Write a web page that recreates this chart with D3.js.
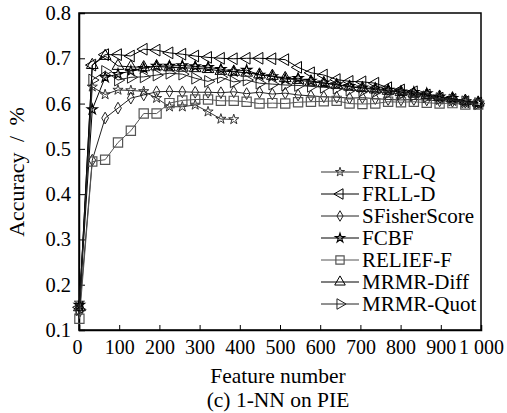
<!DOCTYPE html>
<html>
<head>
<meta charset="utf-8">
<script src="https://cdn.jsdelivr.net/npm/d3@7"></script>
<style>
  body { margin: 0; background: #fff; }
</style>
</head>
<body>
<svg id="chart" width="507" height="413"></svg>
<script>
// feature numbers (step 32)
const features = d3.range(1, 1000, 32)

const frllQ = [0.16, 0.637, 0.620, 0.630, 0.629, 0.627, 0.612, 0.593, 0.593, 0.597, 0.582, 0.566, 0.565]
const frllD = [0.15, 0.685, 0.708, 0.708, 0.705, 0.720, 0.718, 0.712, 0.709, 0.705, 0.702, 0.700, 0.699, 0.700, 0.700, 0.699,
  0.697, 0.680, 0.668, 0.663, 0.653, 0.649, 0.648, 0.645, 0.635, 0.630, 0.626, 0.619, 0.612, 0.609, 0.604, 0.601]
const sFisher = [0.14, 0.475, 0.568, 0.590, 0.612, 0.619, 0.626, 0.627, 0.626, 0.625, 0.625, 0.624, 0.626, 0.622, 0.625, 0.621,
  0.623, 0.619, 0.617, 0.615, 0.614, 0.612, 0.613, 0.611, 0.609, 0.608, 0.609, 0.608, 0.606, 0.605, 0.603, 0.602]
const fcbf = [0.155, 0.587, 0.658, 0.665, 0.672, 0.678, 0.683, 0.683, 0.684, 0.682, 0.680, 0.676, 0.671, 0.674, 0.663, 0.660,
  0.654, 0.656, 0.650, 0.646, 0.642, 0.638, 0.635, 0.633, 0.630, 0.626, 0.625, 0.622, 0.615, 0.612, 0.605, 0.601]
const relief = [0.125, 0.472, 0.476, 0.514, 0.540, 0.578, 0.578, 0.601, 0.607, 0.609, 0.609, 0.606, 0.606, 0.604, 0.600, 0.601,
  0.600, 0.603, 0.604, 0.605, 0.606, 0.600, 0.599, 0.600, 0.604, 0.603, 0.604, 0.602, 0.600, 0.601, 0.598, 0.598]
const mrmrDiff = [0.15, 0.685, 0.705, 0.683, 0.681, 0.680, 0.682, 0.680, 0.679, 0.678, 0.676, 0.672, 0.670, 0.668, 0.664, 0.661,
  0.656, 0.652, 0.648, 0.645, 0.641, 0.637, 0.634, 0.631, 0.628, 0.625, 0.622, 0.619, 0.615, 0.611, 0.606, 0.602]
const mrmrQuot = [0.145, 0.652, 0.671, 0.652, 0.658, 0.659, 0.663, 0.667, 0.665, 0.656, 0.649, 0.658, 0.648, 0.652, 0.645, 0.643,
  0.641, 0.640, 0.638, 0.636, 0.634, 0.630, 0.628, 0.626, 0.624, 0.621, 0.618, 0.615, 0.611, 0.608, 0.604, 0.600]

const seriesNames = ['FRLL-Q', 'FRLL-D', 'SFisherScore', 'FCBF', 'RELIEF-F', 'MRMR-Diff', 'MRMR-Quot']
const seriesValues = [frllQ, frllD, sFisher, fcbf, relief, mrmrDiff, mrmrQuot]

const xTicks = [0, 100, 200, 300, 400, 500, 600, 700, 800, 900, 1000]
const yTicks = [0.1, 0.2, 0.3, 0.4, 0.5, 0.6, 0.7, 0.8]

const FONT = '"Liberation Serif", "DejaVu Serif", serif'

// marker per series
const markers = [
  { type: d3.symbolStar, size: 32, rot: 0, color: '#333', sw: 1 },
  { type: d3.symbolTriangle, size: 60, rot: -90, color: '#000', sw: 1 },
  { type: d3.symbolDiamond, size: 40, rot: 0, color: '#222', sw: 1 },
  { type: d3.symbolStar, size: 32, rot: 0, color: '#000', sw: 1.2 },
  { type: d3.symbolSquare, size: 85, rot: 0, color: '#555', sw: 1.2 },
  { type: d3.symbolTriangle, size: 60, rot: 0, color: '#000', sw: 1 },
  { type: d3.symbolTriangle, size: 60, rot: 90, color: '#222', sw: 1 }
]

const margin = { top: 13, left: 79 }
const width = 402
const height = 317

const svg = d3.select('#chart')
const g = svg.append('g').attr('transform', `translate(${margin.left},${margin.top})`)

const x = d3.scaleLinear().domain([0, 1000]).range([0, width])
const y = d3.scaleLinear().domain([0.1, 0.8]).range([height, 0])

function fmtX (d) {
  return d === 1000 ? '1 000' : String(d)
}

// frame
g.append('rect')
  .attr('width', width)
  .attr('height', height)
  .attr('fill', 'none')
  .attr('stroke', '#000')
  .attr('stroke-width', 1.5)

const xAxis = g.append('g')
  .attr('transform', `translate(0,${height})`)
  .call(d3.axisBottom(x).tickValues(xTicks).tickSize(-5).tickPadding(10).tickFormat(fmtX))
xAxis.attr('font-family', FONT).attr('font-size', 20)
xAxis.select('.domain').attr('stroke-width', 1.5)
xAxis.selectAll('.tick').filter(d => d === 0).select('text').attr('dx', -2)

const yAxis = g.append('g')
  .call(d3.axisLeft(y).tickValues(yTicks).tickSize(-6).tickPadding(8).tickFormat(d3.format('.1f')))
yAxis.attr('font-family', FONT).attr('font-size', 20.5)
yAxis.select('.domain').attr('stroke-width', 1.5)

const line = d3.line()
  .x((d, i) => x(features[i]))
  .y(d => y(d))

seriesValues.forEach((vals, k) => {
  const m = markers[k]
  g.append('path')
    .datum(vals)
    .attr('fill', 'none')
    .attr('stroke', m.color)
    .attr('stroke-width', 1)
    .attr('d', line)

  g.append('g').selectAll('path')
    .data(vals)
    .join('path')
    .attr('d', d3.symbol(m.type, m.size))
    .attr('transform', (d, i) => `translate(${x(features[i])},${y(d)}) rotate(${m.rot})`)
    .attr('fill', 'none')
    .attr('stroke', m.color)
    .attr('stroke-width', m.sw)
})

// legend
const legend = svg.append('g')
  .attr('transform', 'translate(321,172)')
  .attr('font-family', FONT)
  .attr('font-size', 21)
seriesNames.forEach((name, k) => {
  const m = markers[k]
  const row = legend.append('g').attr('transform', `translate(0,${k * 22})`)
  row.append('line')
    .attr('x1', 0).attr('x2', 38)
    .attr('stroke', m.color).attr('stroke-width', 1)
  row.append('path')
    .attr('d', d3.symbol(m.type, m.size * 0.8))
    .attr('transform', `translate(19,0) rotate(${m.rot})`)
    .attr('fill', 'none')
    .attr('stroke', m.color)
    .attr('stroke-width', m.sw)
  row.append('text')
    .attr('x', 41)
    .attr('y', 7)
    .text(name)
})

svg.append('text')
  .attr('x', 278)
  .attr('y', 383)
  .attr('text-anchor', 'middle')
  .attr('font-family', FONT)
  .attr('font-size', 21.5)
  .text('Feature number')

svg.append('text')
  .attr('x', 278)
  .attr('y', 407)
  .attr('text-anchor', 'middle')
  .attr('font-family', FONT)
  .attr('font-size', 21.5)
  .text('(c) 1-NN on PIE')

svg.append('text')
  .attr('transform', 'translate(24,172) rotate(-90)')
  .attr('text-anchor', 'middle')
  .attr('font-family', FONT)
  .attr('font-size', 22)
  .attr('word-spacing', 5)
  .text('Accuracy / %')
</script>
</body>
</html>
